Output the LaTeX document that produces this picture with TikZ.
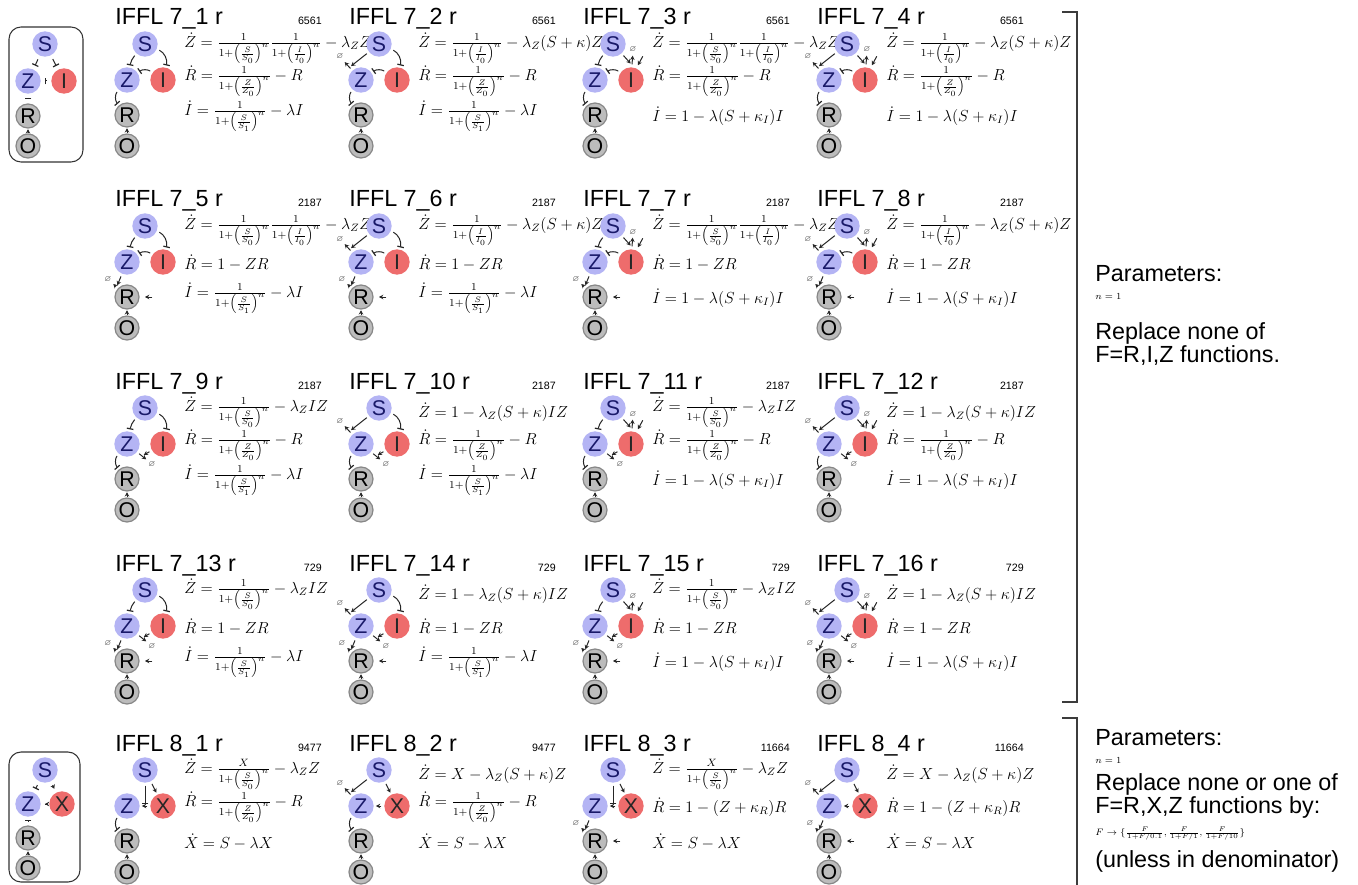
\documentclass[tikz,border=0pt]{standalone}
\usepackage{amsmath,amssymb}
\usepackage{fontspec}
\setmainfont{Liberation Sans}
\usetikzlibrary{arrows.meta,calc}
\definecolor{sfill}{RGB}{180,180,244}
\definecolor{ifill}{RGB}{238,108,108}
\definecolor{gfill}{RGB}{188,188,188}
\definecolor{gedge}{RGB}{135,135,135}
\definecolor{sink}{RGB}{25,25,105}
\definecolor{brk}{RGB}{60,60,60}
\tikzset{
  nbase/.style={circle,inner sep=0pt,minimum size=19pt,font=\fontsize{16}{16}\selectfont},
  snode/.style={nbase,fill=sfill,text=sink},
  inode/.style={nbase,fill=ifill,text=black!85},
  gnode/.style={nbase,fill=gfill,draw=gedge,line width=0.9pt,minimum size=18pt,text=black},
  ttl/.style={anchor=base west,inner sep=0pt,font=\fontsize{17.5}{18}\selectfont},
  num/.style={anchor=base east,inner sep=0pt,font=\fontsize{8}{8}\selectfont},
  eq/.style={anchor=west,inner sep=0pt,font=\fontsize{11.6}{13}\selectfont},
  emp/.style={inner sep=0.3pt,text=black!75,font=\fontsize{6}{6}\selectfont},
  cline/.style={line width=0.75pt,black!85,shorten <=2pt,shorten >=1.5pt},
  inh/.style={cline,-{Bar[width=5pt,line width=0.9pt]}},
  act/.style={cline,-{Stealth[length=3.2pt,width=3.4pt]}},
  lbox/.style={draw=black!80,line width=0.8pt,rounded corners=9pt},
  brack/.style={draw=brk,line width=1pt},
  rtxt/.style={anchor=west,inner sep=0pt,align=left,font=\fontsize{17.5}{15}\selectfont},
  rsmall/.style={anchor=west,inner sep=0pt,font=\fontsize{7}{8}\selectfont},
}
% equations
\newcommand{\EqZA}{\dot Z=\frac{1}{1+\left(\frac{S}{S_0}\right)^n}\frac{1}{1+\left(\frac{I}{I_0}\right)^n}-\lambda_Z Z}
\newcommand{\EqZB}{\dot Z=\frac{1}{1+\left(\frac{I}{I_0}\right)^n}-\lambda_Z(S+\kappa)Z}
\newcommand{\EqZC}{\dot Z=\frac{1}{1+\left(\frac{S}{S_0}\right)^n}-\lambda_Z IZ}
\newcommand{\EqZD}{\dot Z=1-\lambda_Z(S+\kappa)IZ}
\newcommand{\EqRa}{\dot R=\frac{1}{1+\left(\frac{Z}{Z_0}\right)^n}-R}
\newcommand{\EqRb}{\dot R=1-ZR}
\newcommand{\EqRc}{\dot R=1-(Z+\kappa_R)R}
\newcommand{\EqIa}{\dot I=\frac{1}{1+\left(\frac{S}{S_1}\right)^n}-\lambda I}
\newcommand{\EqIb}{\dot I=1-\lambda(S+\kappa_I)I}
\newcommand{\EqZXa}{\dot Z=\frac{X}{1+\left(\frac{S}{S_0}\right)^n}-\lambda_Z Z}
\newcommand{\EqZXb}{\dot Z=X-\lambda_Z(S+\kappa)Z}
\newcommand{\EqX}{\dot X=S-\lambda X}
% panel
\newcommand{\panel}[9]{%
  \node[ttl] (#1-t) at (#2,#3+8) {IFFL #4 r};
  \node[num] (#1-n) at (#2+207,#3+8) {#5};
  \node[eq] (#1-e1) at (#2+69,#3+31) {$#6$};
  \node[eq] (#1-e2) at (#2+69,#3+64) {$#7$};
  \node[eq] (#1-e3) at (#2+69,#3+99) {$#8$};
  \node[snode] (#1-S) at (#2+30,#3+27) {S};
  \node[snode] (#1-Z) at (#2+12,#3+63) {Z};
  \node[inode] (#1-I) at (#2+48,#3+63) {#9};
  \node[gnode] (#1-R) at (#2+12,#3+98) {R};
  \node[gnode] (#1-O) at (#2+12,#3+129) {O};
  \draw[act,shorten <=0.5pt,shorten >=0.5pt] (#1-O) -- (#1-R);
}
% edge groups
\newcommand{\eZSrep}[1]{\draw[inh] (#1-S) to[bend right=15] (#1-Z);}
\newcommand{\eZIrep}[1]{\draw[inh] (#1-I) to[bend right=35] (#1-Z);}
\newcommand{\eISrep}[1]{\draw[inh] (#1-S) to[bend left=40] (#1-I);}
\newcommand{\eRZrep}[1]{\draw[inh] (#1-Z) to[bend right=40] (#1-R);}
\newcommand{\eZSdeg}[1]{%
  \node[emp] (#1-dz) at ($(#1-Z)+(-21,-23)$) {$\varnothing$};
  \draw[act] (#1-Z) -- (#1-dz);
  \coordinate (#1-mz) at ($(#1-Z)!0.55!(#1-dz)$);
  \draw[act] (#1-S) -- (#1-mz);}
\newcommand{\eZIdeg}[1]{%
  \node[emp] (#1-dy) at ($(#1-Z)+(25,20)$) {$\varnothing$};
  \draw[act] (#1-Z) -- (#1-dy);
  \coordinate (#1-my) at ($(#1-Z)!0.6!(#1-dy)$);
  \draw[act] (#1-I) -- (#1-my);}
\newcommand{\eRZdeg}[1]{%
  \node[emp] (#1-dr) at ($(#1-R)+(-19,-18)$) {$\varnothing$};
  \draw[act] (#1-R) -- (#1-dr);
  \coordinate (#1-mr) at ($(#1-R)!0.55!(#1-dr)$);
  \draw[act] (#1-Z) -- (#1-mr);
  \coordinate (#1-pr0) at ($(#1-R)+(28,0)$);
  \coordinate (#1-pr1) at ($(#1-R)+(16,0)$);
  \draw[act] (#1-pr0) -- (#1-pr1);}
\newcommand{\eISdeg}[1]{%
  \node[emp] (#1-di) at ($(#1-I)+(2,-30)$) {$\varnothing$};
  \draw[act] (#1-I) -- (#1-di);
  \coordinate (#1-mi) at ($(#1-I)!0.5!(#1-di)$);
  \draw[act] (#1-S) -- (#1-mi);
  \coordinate (#1-pi0) at ($(#1-I)+(13,-26)$);
  \coordinate (#1-pi1) at ($(#1-I)+(6,-13)$);
  \draw[act] (#1-pi0) -- (#1-pi1);}
\newcommand{\eXSact}[1]{\draw[act] (#1-S) -- (#1-I);}
\newcommand{\eZXact}[1]{\draw[act] (#1-I) -- (#1-Z);
  \coordinate (#1-mx) at ($(#1-Z)!0.5!(#1-I)$);}
\newcommand{\eZSrepX}[1]{\draw[inh] (#1-S) -- (#1-mx);}
\begin{document}
\begin{tikzpicture}[x=0.75pt,y=-0.75pt]
\useasboundingbox (0,0) rectangle (1358,884);
\fill[white] (0,0) rectangle (1358,884);
% ---------- left box 1
\draw[lbox] (9,27) rectangle (83,162);
\node[snode] (L1-S) at (45,44) {S};
\node[snode] (L1-Z) at (28,81) {Z};
\node[inode] (L1-I) at (64,81) {I};
\node[gnode] (L1-R) at (28,116) {R};
\node[gnode] (L1-O) at (28,146) {O};
\draw[inh,shorten <=3pt,shorten >=3pt] (L1-S) -- (L1-Z);
\draw[inh,shorten <=3pt,shorten >=3pt] (L1-S) -- (L1-I);
\draw[inh,shorten <=3pt,shorten >=3pt] (L1-I) -- (L1-Z);
\draw[inh,shorten <=3pt,shorten >=3pt] (L1-Z) -- (L1-R);
\draw[act,shorten <=0.5pt,shorten >=0.5pt] (L1-O) -- (L1-R);
% ---------- left box 2
\draw[lbox] (9,752) rectangle (80,882);
\node[snode] (L5-S) at (45,770) {S};
\node[snode] (L5-Z) at (28,804) {Z};
\node[inode] (L5-X) at (62,804) {X};
\node[gnode] (L5-R) at (28,838) {R};
\node[gnode] (L5-O) at (28,868) {O};
\draw[inh,shorten <=3pt,shorten >=3pt] (L5-S) -- (L5-Z);
\draw[act,shorten <=3pt,shorten >=3pt] (L5-S) -- (L5-X);
\draw[act,shorten <=3pt,shorten >=3pt] (L5-X) -- (L5-Z);
\draw[inh,shorten <=3pt,shorten >=3pt] (L5-Z) -- (L5-R);
\draw[act,shorten <=0.5pt,shorten >=0.5pt] (L5-O) -- (L5-R);
% ---------- row 1
\panel{a1}{115}{17}{7\_1}{6561}{\EqZA}{\EqRa}{\EqIa}{I}
\eZSrep{a1}\eZIrep{a1}\eRZrep{a1}\eISrep{a1}
\panel{a2}{349}{17}{7\_2}{6561}{\EqZB}{\EqRa}{\EqIa}{I}
\eZIrep{a2}\eZSdeg{a2}\eRZrep{a2}\eISrep{a2}
\panel{a3}{583}{17}{7\_3}{6561}{\EqZA}{\EqRa}{\EqIb}{I}
\eZSrep{a3}\eZIrep{a3}\eRZrep{a3}\eISdeg{a3}
\panel{a4}{817}{17}{7\_4}{6561}{\EqZB}{\EqRa}{\EqIb}{I}
\eZIrep{a4}\eZSdeg{a4}\eRZrep{a4}\eISdeg{a4}
% ---------- row 2
\panel{b1}{115}{199}{7\_5}{2187}{\EqZA}{\EqRb}{\EqIa}{I}
\eZSrep{b1}\eZIrep{b1}\eRZdeg{b1}\eISrep{b1}
\panel{b2}{349}{199}{7\_6}{2187}{\EqZB}{\EqRb}{\EqIa}{I}
\eZIrep{b2}\eZSdeg{b2}\eRZdeg{b2}\eISrep{b2}
\panel{b3}{583}{199}{7\_7}{2187}{\EqZA}{\EqRb}{\EqIb}{I}
\eZSrep{b3}\eZIrep{b3}\eRZdeg{b3}\eISdeg{b3}
\panel{b4}{817}{199}{7\_8}{2187}{\EqZB}{\EqRb}{\EqIb}{I}
\eZIrep{b4}\eZSdeg{b4}\eRZdeg{b4}\eISdeg{b4}
% ---------- row 3
\panel{c1}{115}{381}{7\_9}{2187}{\EqZC}{\EqRa}{\EqIa}{I}
\eZSrep{c1}\eZIdeg{c1}\eRZrep{c1}\eISrep{c1}
\panel{c2}{349}{381}{7\_10}{2187}{\EqZD}{\EqRa}{\EqIa}{I}
\eZSdeg{c2}\eZIdeg{c2}\eRZrep{c2}\eISrep{c2}
\panel{c3}{583}{381}{7\_11}{2187}{\EqZC}{\EqRa}{\EqIb}{I}
\eZSrep{c3}\eZIdeg{c3}\eRZrep{c3}\eISdeg{c3}
\panel{c4}{817}{381}{7\_12}{2187}{\EqZD}{\EqRa}{\EqIb}{I}
\eZSdeg{c4}\eZIdeg{c4}\eRZrep{c4}\eISdeg{c4}
% ---------- row 4
\panel{d1}{115}{563}{7\_13}{729}{\EqZC}{\EqRb}{\EqIa}{I}
\eZSrep{d1}\eZIdeg{d1}\eRZdeg{d1}\eISrep{d1}
\panel{d2}{349}{563}{7\_14}{729}{\EqZD}{\EqRb}{\EqIa}{I}
\eZSdeg{d2}\eZIdeg{d2}\eRZdeg{d2}\eISrep{d2}
\panel{d3}{583}{563}{7\_15}{729}{\EqZC}{\EqRb}{\EqIb}{I}
\eZSrep{d3}\eZIdeg{d3}\eRZdeg{d3}\eISdeg{d3}
\panel{d4}{817}{563}{7\_16}{729}{\EqZD}{\EqRb}{\EqIb}{I}
\eZSdeg{d4}\eZIdeg{d4}\eRZdeg{d4}\eISdeg{d4}
% ---------- row 5
\panel{e1}{115}{743}{8\_1}{9477}{\EqZXa}{\EqRa}{\EqX}{X}
\eZXact{e1}\eZSrepX{e1}\eXSact{e1}\eRZrep{e1}
\panel{e2}{349}{743}{8\_2}{9477}{\EqZXb}{\EqRa}{\EqX}{X}
\eZXact{e2}\eZSdeg{e2}\eXSact{e2}\eRZrep{e2}
\panel{e3}{583}{743}{8\_3}{11664}{\EqZXa}{\EqRc}{\EqX}{X}
\eZXact{e3}\eZSrepX{e3}\eXSact{e3}\eRZdeg{e3}
\panel{e4}{817}{743}{8\_4}{11664}{\EqZXb}{\EqRc}{\EqX}{X}
\eZXact{e4}\eZSdeg{e4}\eXSact{e4}\eRZdeg{e4}
% ---------- brackets
\draw[brack] (1062,12) -- (1077,12) -- (1077,702) -- (1062,702);
\draw[brack] (1062,718) -- (1077,718) -- (1077,890);
% ---------- right texts
\node[rtxt] (p1) at (1095,274) {Parameters:};
\node[rsmall] (n1) at (1095,296) {$n=1$};
\node[rtxt] (r1) at (1095,344) {Replace none of\\F=R,I,Z functions.};
\node[rtxt] (p2) at (1095,738) {Parameters:};
\node[rsmall] (n2) at (1095,760) {$n=1$};
\node[rtxt] (r2) at (1095,796) {Replace none or one of\\F=R,X,Z functions by:};
\node[rsmall] (f2) at (1095,834) {$F\to\{\frac{F}{1+F/0.1},\frac{F}{1+F/1},\frac{F}{1+F/10}\}$};
\node[rtxt] (u2) at (1095,861) {(unless in denominator)};
\end{tikzpicture}
\end{document}
